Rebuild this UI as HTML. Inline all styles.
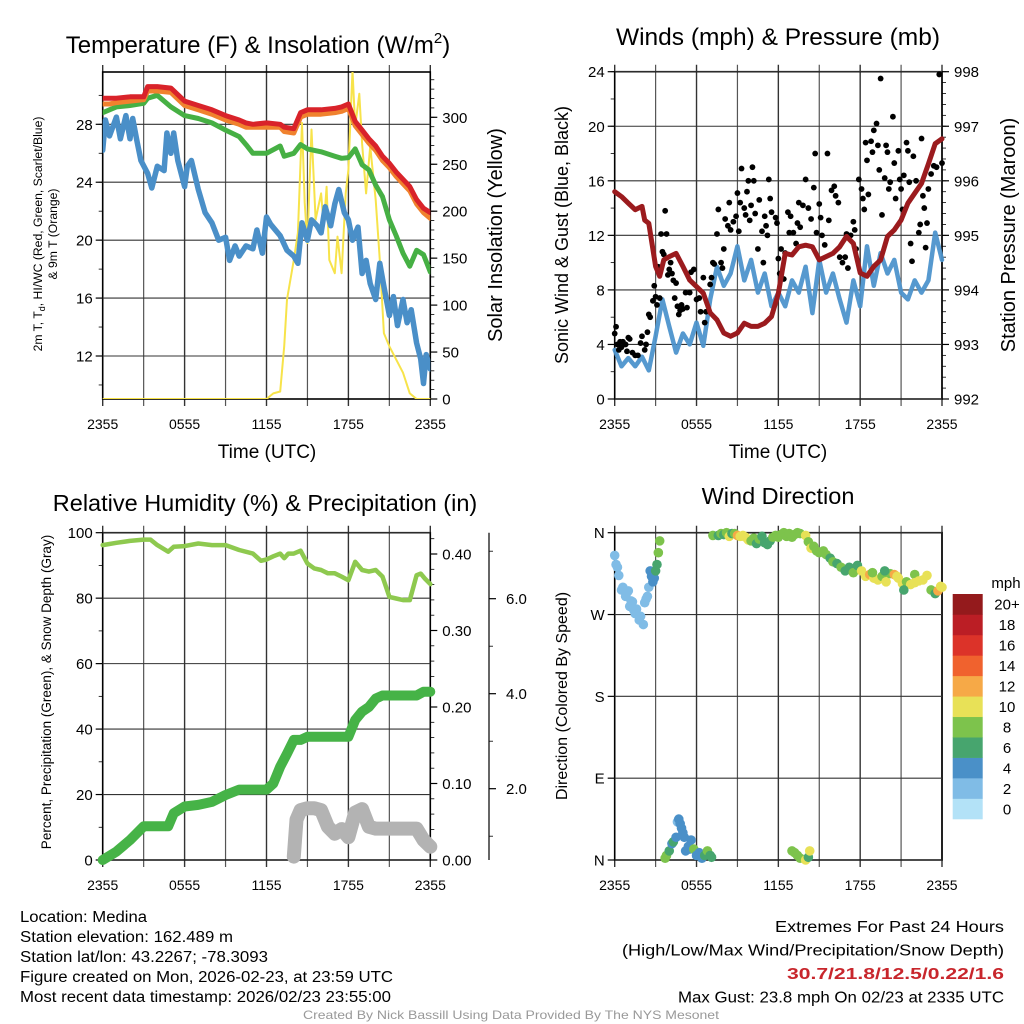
<!DOCTYPE html>
<html><head><meta charset="utf-8"><style>
html,body{margin:0;padding:0;background:#fff}
svg{display:block;font-family:"Liberation Sans",sans-serif}
</style></head><body>
<svg id="c" width="1024" height="1024" viewBox="0 0 1024 1024" xmlns="http://www.w3.org/2000/svg"></svg>
<script>
// ---------- DATA ----------
const tempTimes=[0,0.5,1,2,3,3.3,4,5,6,7,8,9,10,10.5,11,12,13,13.3,14,14.5,15,16,17,17.5,18,18.5,19,19.5,20,20.5,21,21.5,22,22.5,23,23.5,24];
const tempRed=[29.8,29.8,29.8,29.9,29.9,30.6,30.6,30.5,29.6,29.3,29.0,28.6,28.3,28.1,28.0,28.1,28.0,27.8,27.7,28.8,29.0,29.0,29.1,29.2,29.4,28.2,27.6,27.0,26.5,25.8,25.3,24.7,24.2,23.7,22.8,22.2,21.9];
const tempOrange=[29.4,29.4,29.5,29.6,29.7,30.3,30.3,30.2,29.3,29.0,28.7,28.3,28.0,27.8,27.8,27.8,27.8,27.5,27.4,28.5,28.7,28.7,28.8,28.9,29.1,27.9,27.3,26.7,26.2,25.5,25.0,24.4,23.9,23.4,22.5,21.9,21.5];
const tempGreen=[28.8,29.0,29.2,29.3,29.45,29.8,30.0,29.2,28.6,28.4,28.1,27.6,27.15,26.6,26.0,26.0,26.5,25.8,26.0,26.6,26.3,26.1,25.8,25.65,25.7,26.3,25.2,24.85,23.8,23.0,21.4,20.3,19.1,18.2,19.3,19.0,17.8];
const dewTimes=[0,0.2,0.5,1,1.3,1.7,2,2.2,2.5,2.8,3.3,3.6,4,4.5,4.7,5,5.2,5.5,6,6.2,6.5,7,7.5,8,8.5,9,9.3,9.7,10,10.5,11,11.3,11.7,12,12.3,13,13.5,14,14.3,14.6,15,15.3,15.7,16,16.3,16.7,17,17.3,17.7,18,18.3,18.7,19,19.3,19.6,20,20.3,20.6,21,21.3,21.6,22,22.3,22.6,23,23.3,23.5,23.7,24];
const dewBlue=[26.2,28.3,27.2,28.5,27.0,28.6,27.0,28.4,26.9,25.5,24.6,23.6,25.1,24.8,27.4,26.0,27.4,25.5,23.7,25.1,25.5,23.5,21.9,21.2,20.0,20.2,18.6,19.6,18.9,19.6,19.4,20.7,19.1,21.6,21.1,20.3,19.3,18.9,18.4,21.2,20.0,21.4,21.0,20.5,22.3,21.0,22.5,23.5,21.9,21.4,20.0,20.9,17.7,18.6,17.0,15.9,18.4,16.8,14.8,16.1,14.1,15.9,14.3,15.2,12.9,11.8,10.1,12.1,11.1];
const solarTimes=[0,12,12.5,13,13.3,13.5,14,14.3,14.6,14.8,15,15.3,15.6,16,16.2,16.4,16.6,17,17.2,17.5,17.8,18,18.3,18.5,18.8,19,19.3,19.6,20,20.3,20.6,21,21.5,22,22.5,23,24];
const solarVals=[0,0,6,8,56,106,148,177,294,209,166,287,191,219,184,226,148,134,173,134,219,244,350,290,325,272,219,269,212,148,70,56,42,28,6,0,0];

const windTimes=[0,0.5,1,1.5,2,2.5,3,3.5,4,4.5,5,5.5,6,6.5,7,7.5,8,8.5,9,9.5,10,10.5,11,11.5,12,12.5,13,13.5,14,14.5,15,15.5,16,16.5,17,17.5,18,18.5,19,19.5,20,20.5,21,21.5,22,22.5,23,23.5,24];
const windSpeed=[3.6,2.4,3.0,2.4,3.1,2.1,4.6,7.3,5.3,3.4,4.8,4.0,5.6,3.9,7.3,9.7,8.3,9.2,11.2,8.7,10.2,7.8,9.2,6.8,7.8,6.8,8.7,7.8,9.7,6.3,10.2,7.8,9.2,7.3,5.6,8.7,6.8,11.2,8.3,10.7,9.2,10.2,7.8,7.3,8.7,7.8,8.7,12.2,10.2];
const pressTimes=[0,0.5,1,1.5,2,2.2,2.5,3,3.3,3.6,4,4.5,5,5.5,6,6.5,7,7.5,8,8.5,9,9.5,10,10.5,11,11.5,12,12.5,13,13.5,14,14.5,15,15.5,16,16.5,17,17.5,18,18.5,19,19.5,20,20.5,21,21.5,22,22.5,23,23.5,24];
const pressVals=[995.8,995.71,995.59,995.47,995.53,995.28,995.22,994.43,994.25,994.55,994.61,994.67,994.43,994.18,994.06,993.94,993.58,993.45,993.21,993.15,993.21,993.39,993.33,993.33,993.39,993.51,993.94,994.67,994.64,994.79,994.82,994.79,994.55,994.61,994.67,994.79,994.98,994.85,994.31,994.25,994.43,994.55,994.98,995.1,995.28,995.59,995.77,995.95,996.31,996.68,996.77];
const gustTimes=[0,0.1,0.2,0.3,0.4,0.5,0.6,0.8,0.9,1.0,1.1,1.3,1.5,1.7,1.9,2.0,2.2,2.3,2.4,2.5,2.6,2.8,2.9,3.0,3.1,3.2,3.3,3.4,3.5,3.6,3.7,3.8,3.9,4.0,4.1,4.2,4.3,4.4,4.5,4.6,4.7,4.8,4.9,5.0,5.2,5.3,5.5,5.6,5.8,6.0,6.2,6.3,6.5,6.6,6.7,7.0,7.1,7.2,7.3,7.5,7.6,7.8,7.9,8.0,8.1,8.3,8.4,8.5,8.7,8.9,9.0,9.1,9.2,9.3,9.5,9.6,9.7,9.8,9.9,10.0,10.1,10.2,10.3,10.5,10.6,10.8,10.9,11.0,11.1,11.2,11.3,11.4,11.5,11.8,11.9,12.0,12.1,12.2,12.4,12.5,12.7,12.8,12.9,13.1,13.3,13.4,13.5,13.6,13.8,14.0,14.2,14.4,14.6,14.7,14.8,15.0,15.1,15.2,15.4,15.6,15.7,15.9,16.1,16.2,16.4,16.5,16.7,16.9,17.0,17.1,17.3,17.5,17.6,17.7,17.9,18.1,18.2,18.3,18.4,18.5,18.6,18.8,18.9,19.0,19.2,19.3,19.4,19.5,19.6,19.8,19.9,20.0,20.1,20.2,20.4,20.5,20.6,20.8,20.9,21.0,21.1,21.2,21.4,21.5,21.6,21.7,21.8,21.9,22.1,22.3,22.4,22.5,22.6,22.7,22.8,22.9,23.0,23.2,23.4,23.6,23.8,24.0];
const gustVals=[4.8,5.3,4.0,3.6,4.2,3.8,4.2,4.0,3.5,4.5,4.4,3.4,3.2,3.2,4.1,4.6,3.6,4.0,4.9,6.2,6.0,7.2,8.3,7.5,6.9,9.7,7.4,12.1,10.8,10.6,13.8,12.1,9.1,9.5,10.0,9.2,8.7,7.4,8.5,6.8,6.2,6.5,6.9,6.6,7.8,6.7,7.8,9.3,9.5,7.3,7.4,6.4,8.9,5.6,6.4,8.4,8.9,10.0,9.9,12.1,13.9,10.0,9.6,11.0,13.2,12.7,14.4,12.4,13.0,13.4,15.1,12.3,14.4,16.9,14.0,13.5,15.2,16.0,13.1,14.2,17.0,16.0,13.6,11.0,14.6,12.3,10.0,13.4,12.7,12.0,16.1,14.7,13.7,13.3,12.9,10.3,9.2,11.0,8.8,10.7,13.7,12.2,13.4,12.2,11.4,12.9,14.4,12.6,14.2,16.1,14.0,13.2,15.5,18.0,12.2,14.3,13.3,12.0,11.3,18.0,13.1,15.3,15.6,14.9,14.4,10.4,10.0,10.4,12.1,9.6,12.0,13.0,12.4,11.0,16.1,15.4,14.7,13.9,18.8,17.5,15.0,18.9,18.1,19.7,20.2,18.6,16.8,23.5,13.5,16.2,18.6,18.1,15.4,15.9,20.7,17.3,14.7,18.2,16.1,15.4,13.9,16.4,18.8,18.2,15.9,11.4,10.1,17.8,16.0,12.2,12.8,19.1,14.9,14.0,11.1,12.9,15.4,16.5,17.1,17.0,23.8,17.3];

const rhTimes=[0,1,2,3,3.5,4,4.8,5.2,6,7,8,9,10,11,11.6,12,12.5,13,13.3,13.6,14,14.5,15,15.5,16,16.5,17,17.5,18,18.5,19,19.5,20,20.5,21,21.5,22,22.5,23,23.3,23.6,24];
const rhVals=[96.2,96.9,97.5,97.9,97.9,96.2,94.2,95.7,95.9,96.7,96.2,96.2,94.7,93.6,91.4,91.8,92.8,93.6,92.2,93.6,93.6,94.5,90.6,89.1,88.6,87.6,87.6,86.6,85.5,91.1,88.6,88.1,88.6,86.6,80.4,79.9,79.4,79.4,87.0,87.5,86.0,84.3];
const precipTimes=[0,1,2,2.5,3,4,4.8,5.2,6,7,8,9,10,11,12,12.5,13,13.5,14,14.5,15,16,17,18,18.5,19,19.5,20,20.5,21,22,23,23.5,24];
const precipVals=[0,0.011,0.026,0.035,0.044,0.044,0.044,0.061,0.07,0.072,0.076,0.085,0.092,0.092,0.092,0.1,0.122,0.139,0.157,0.157,0.161,0.161,0.161,0.161,0.183,0.194,0.2,0.211,0.215,0.215,0.215,0.215,0.22,0.22];
const snowTimes=[14,14.2,14.5,15,15.5,16,16.5,17,17.5,18,18.5,19,19.5,20,21,22,23,23.5,24];
const snowVals=[0.57,1.35,1.55,1.59,1.59,1.55,1.2,1.05,1.15,0.98,1.5,1.57,1.2,1.16,1.16,1.16,1.16,0.92,0.78];

const dirTimes=[0,0.1,0.2,0.3,0.5,0.6,0.8,0.9,1.0,1.1,1.2,1.3,1.4,1.5,1.6,1.8,1.9,2.1,2.2,2.3,2.4,2.5,2.6,2.7,2.8,2.9,3.0,3.1,3.2,3.3,3.7,3.8,4.0,4.2,4.3,4.5,4.6,4.7,4.8,4.9,5.0,5.1,5.2,5.4,5.5,5.6,5.8,6.0,6.2,6.4,6.6,6.8,7.0,7.1,7.2,7.6,7.8,8.0,8.2,8.4,8.6,8.8,9.0,9.2,9.4,9.6,9.8,10.0,10.2,10.4,10.6,10.8,11.0,11.2,11.4,11.6,11.8,12.0,12.2,12.4,12.6,12.8,13.0,13.2,13.4,13.6,14.0,14.2,14.4,14.6,14.8,13.0,13.2,13.4,13.6,14.0,14.2,14.3,15.0,15.3,15.5,15.8,16.0,16.3,16.6,16.9,17.2,17.5,17.8,18.1,18.4,18.7,19.0,19.3,19.6,19.9,20.2,20.5,20.8,21.1,21.4,21.7,22.0,22.3,22.6,22.9,23.2,23.5,23.7,23.9,24.0,22.0,21.2,20.7,19.8,18.9];
const dirVals=[335,325,322,313,297,300,290,294,296,279,285,284,275,271,276,264,268,259,283,287,290,300,318,312,306,310,318,325,338,351,2,5,10,18,20,25,42,45,40,35,30,25,10,15,12,22,12,5,8,2,5,10,5,3,357,357,359,358,360,356,359,359,357,356,357,355,352,351,354,348,353,356,349,347,351,355,357,355,358,360,356,359,355,358,360,359,357,350,343,345,340,10,8,5,2,0,3,10,338,340,336,332,328,326,322,318,322,316,324,318,312,314,310,308,312,306,315,314,310,304,306,303,314,307,308,313,297,293,296,301,300,305,297,312,318,316];
const dirSpeeds=[2,2,2,2,2,2,2,2,2,2,2,2,2,2,2,2,2,2,2,2,2,2,4,4,4,4,6,6,8,8,8,8,6,4,6,4,2,4,4,4,4,4,4,4,4,4,8,4,4,4,6,8,6,6,8,6,8,6,8,10,6,8,12,10,10,10,10,8,8,6,8,6,6,6,6,8,8,8,8,8,8,8,8,8,8,8,10,8,10,8,8,8,8,8,8,10,6,10,8,8,8,6,8,6,8,6,6,8,6,10,10,12,10,10,8,10,8,12,10,10,8,10,8,10,10,10,8,6,12,10,10,10,6,10,6,8];
const speedLabels=["0","2","4","6","8","10","12","14","16","18","20+"];
const speedColors=["#b3e2f7","#80bce6","#4a90c8","#47a56e","#7dc34c","#e8e157","#f6a947","#f0622e","#dc3329","#bb1e25","#941a1c"];
const xTickLabels=["2355","0555","1155","1755","2355"];

// ---------- HELPERS ----------
const NS="http://www.w3.org/2000/svg";
const svg=document.getElementById('c');
function mk(tag,attrs,parent){const e=document.createElementNS(NS,tag);for(const k in attrs)e.setAttribute(k,attrs[k]);(parent||svg).appendChild(e);return e;}
function txt(s,x,y,size,anchor,parent,extra){const e=mk('text',Object.assign({x:x,y:y,'font-size':size,'text-anchor':anchor||'middle',fill:'#000'},extra||{}),parent);e.textContent=s;return e;}
function lin(a,b,c,d,col,w,parent){return mk('line',{x1:a,y1:b,x2:c,y2:d,stroke:col,'stroke-width':w},parent);}

const X0=102.7,X1=430.3,X0b=614.7,X1b=942;
function mkX(x0,x1){return h=>x0+(x1-x0)*h/24;}
function mkY(v0,v1,y0,y1){return v=>y0+(v-v0)*(y1-y0)/(v1-v0);}

function frame(name,x0,x1,y0,y1){
  const g=mk('g',{});
  
  
  for(let i=0;i<=8;i++){const x=x0+(x1-x0)*i/8;
    const l=lin(x,y0-7,x,y1+7,i%2?'#555':'#333',i%2?1.2:1.4,g);
    
    }
  for(let i=0;i<5;i++){const t=txt(xTickLabels[i],x0+(x1-x0)*i/4,y1+30,14,'middle',g);
    
    }
  const r=mk('rect',{x:x0,y:y0,width:x1-x0,height:y1-y0,fill:'none',stroke:'#000','stroke-width':1.6},g);
  
  
  return g;
}
function polyline(name,ts,vs,sx,sy,col,w,parent,op){
  const pts=ts.map((t,i)=>sx(t).toFixed(1)+','+sy(vs[i]).toFixed(1)).join(' ');
  const p=mk('polyline',{points:pts,fill:'none',stroke:col,'stroke-width':w,'stroke-linejoin':'round','stroke-linecap':'round','stroke-opacity':op||1},parent);
  
  
  return p;
}
let X0g=0;
function yAxis(g,vals,labels,sy,x,side,size,gridX1,grid){
  vals.forEach((v,i)=>{const y=sy(v);
    lin(x,y,x+(side<0?-7:7),y,'#000',1.2,g);
    if(grid) lin(X0g,y,gridX1,y,'#333',1.1,g);
    const t=txt(labels[i],x+(side<0?-10:12),y+5.5,size,side<0?'end':'start',g);
    
    });
}
function minor(g,from,to,step,sy,x,side){for(let v=from;v<=to+1e-9;v+=step){const y=sy(v);lin(x,y,x+(side<0?-4:4),y,'#000',0.8,g);}}

// ---------- PANEL 1 ----------
(function(){
  const sx=mkX(X0,X1), sy=mkY(12,28,356,124.3), sr=mkY(0,300,399,117.3);
  const g=frame('temperature-panel',X0,X1,72,399);
  X0g=X0;
  yAxis(g,[12,16,20,24,28],['12','16','20','24','28'],sy,X0,-1,15,X1,true);
  minor(g,10,30,2,sy,X0,-1);
  yAxis(g,[0,50,100,150,200,250,300],['0','50','100','150','200','250','300'],sr,X1,1,15,X1,false);
  minor(g,10,340,10,sr,X1,1);
  const cp=mk('clipPath',{id:'cp1'});mk('rect',{x:X0,y:72,width:X1-X0,height:327},cp);
  const d=mk('g',{'clip-path':'url(#cp1)'},g);
  polyline('solar-insolation-line',solarTimes,solarVals,sx,sr,'#f7e34a',2,d);
  polyline('dewpoint-line',dewTimes,dewBlue,sx,sy,'#4a8fc8',5.5,d);
  polyline('heat-index-line',tempTimes,tempGreen,sx,sy,'#46b044',5,d);
  polyline('temp-9m-line',tempTimes,tempOrange,sx,sy,'#f0822e',5,d);
  polyline('temp-2m-line',tempTimes,tempRed,sx,sy,'#d9232a',5,d);
  let t=txt('Temperature (F) & Insolation (W/m',258,53,24,'middle',svg);
  const ts=mk('tspan',{'font-size':15,dy:-10},t);ts.textContent='2';const ts2=mk('tspan',{dy:10},t);ts2.textContent=')';
  t=txt('Time (UTC)',267,458,19,'middle');
  const yl=mk('g',{transform:'translate(42,234) rotate(-90)'});
  
  const a=txt('2m T, T',0,0,12.2,'middle',yl);const sub=mk('tspan',{'font-size':9,dy:3},a);sub.textContent='d';const r=mk('tspan',{dy:-3},a);r.textContent=', HI/WC (Red, Green, Scarlet/Blue)';
  txt('& 9m T (Orange)',0,15,12.2,'middle',yl);
  t=txt('Solar Insolation (Yellow)',0,0,20,'middle',svg,{transform:'translate(502,235) rotate(-90)'});
})();

// ---------- PANEL 2 ----------
(function(){
  const sx=mkX(X0b,X1b), sy=mkY(0,24,399,71.7), sp=mkY(992,998,399,71.7);
  const g=frame('winds-panel',X0b,X1b,71.7,399);
  X0g=X0b;
  yAxis(g,[0,4,8,12,16,20,24],['0','4','8','12','16','20','24'],sy,X0b,-1,15,X1b,true);
  minor(g,0,24,2,sy,X0b,-1);
  yAxis(g,[992,993,994,995,996,997,998],['992','993','994','995','996','997','998'],sp,X1b,1,15,X1b,false);
  minor(g,992,998,0.2,sp,X1b,1);
  polyline('wind-speed-line',windTimes,windSpeed,sx,sy,'#4d93cc',4.5,g,0.95);
  const dots=mk('g',{},g);
  gustTimes.forEach((t,i)=>{const c=mk('circle',{cx:sx(t),cy:sy(gustVals[i]),r:2.9,fill:'#000'},dots);
    
    });
  polyline('pressure-line',pressTimes,pressVals,sx,sp,'#9b1b1e',5,g);
  let t=txt('Winds (mph) & Pressure (mb)',778,45,24.5,'middle');
  t=txt('Time (UTC)',778,458,19,'middle');
  t=txt('Sonic Wind & Gust (Blue, Black)',0,0,18,'middle',svg,{transform:'translate(568,235) rotate(-90)'});
  t=txt('Station Pressure (Maroon)',0,0,20,'middle',svg,{transform:'translate(1015,235) rotate(-90)'});
})();

// ---------- PANEL 3 ----------
(function(){
  const Y0=532.7,Y1=860;
  const sx=mkX(X0,X1), sy=mkY(0,100,Y1,Y0), spr=mkY(0,0.4,Y1,554), ssn=v=>883.7-47.5*v;
  const g=frame('humidity-panel',X0,X1,Y0,Y1);
  X0g=X0;
  yAxis(g,[0,20,40,60,80,100],['0','20','40','60','80','100'],sy,X0,-1,15,X1,true);
  minor(g,10,90,20,sy,X0,-1);
  yAxis(g,[0,0.1,0.2,0.3,0.4],['0.00','0.10','0.20','0.30','0.40'],spr,X1,1,15,X1,false);
  minor(g,0.02,0.42,0.02,spr,X1,1);
  lin(489,Y0,489,Y1,'#000',1.2,g);
  [2,4,6].forEach((v,i)=>{const y=ssn(v);lin(489,y,496,y,'#000',1.2,g);
    const t=txt(v.toFixed(1),506,y+5.5,15,'start',g);
    
    });
  [1,3,5,7].forEach(v=>lin(489,ssn(v),493,ssn(v),'#000',0.8,g));
  const cp=mk('clipPath',{id:'cp3'});mk('rect',{x:X0-8,y:Y0,width:X1-X0+16,height:Y1-Y0+8},cp);
  const d=mk('g',{'clip-path':'url(#cp3)'},g);
  polyline('snow-depth-line',snowTimes,snowVals,sx,ssn,'#b3b3b3',14,d);
  polyline('precipitation-line',precipTimes,precipVals,sx,spr,'#46b347',10,d);
  polyline('humidity-line',rhTimes,rhVals,sx,sy,'#8ec94f',4.5,d);
  let t=txt('Relative Humidity (%) & Precipitation (in)',265,511,23.5,'middle');
  t=txt('Percent, Precipitation (Green), & Snow Depth (Gray)',0,0,13.5,'middle',svg,{transform:'translate(51,692) rotate(-90)'});
})();

// ---------- PANEL 4 ----------
(function(){
  const Y0=532.7,Y1=860;
  const sx=mkX(X0b,X1b), sy=mkY(0,360,Y1,Y0);
  const g=frame('wind-direction-panel',X0b,X1b,Y0,Y1);
  X0g=X0b;
  yAxis(g,[0,90,180,270,360],['N','E','S','W','N'],sy,X0b,-1,15,X1b,true);
  const dots=mk('g',{},g);
  dirTimes.forEach((t,i)=>{const idx=Math.min(10,Math.floor(dirSpeeds[i]/2));
    const c=mk('circle',{cx:sx(t),cy:sy(dirVals[i]),r:4.8,fill:speedColors[idx]},dots);
    
    });
  const cb=mk('g',{});
  const top=594,bh=(819-594)/11;
  for(let i=0;i<11;i++){const y=top+bh*(10-i);
    const r=mk('rect',{x:952.7,y:y,width:30,height:bh+0.3,fill:speedColors[i]},cb);
    
    
    const t=txt(speedLabels[i],1007,y+bh/2+5.5,15,'middle',cb);
    
    }
  let t=txt('mph',1006,588,15,'middle',cb);
  t=txt('Wind Direction',778,504,23.5,'middle');
  t=txt('Direction (Colored By Speed)',0,0,16,'middle',svg,{transform:'translate(567,696) rotate(-90)'});
})();

// ---------- FOOTER ----------
(function(){
  const left=[['Location: Medina',127],['Station elevation: 162.489 m',213],['Station lat/lon: 43.2267; -78.3093',248],['Figure created on Mon, 2026-02-23, at 23:59 UTC',373],['Most recent data timestamp: 2026/02/23 23:55:00',371]];
  left.forEach((l,i)=>{const t=txt(l[0],20,922+20*i,15.5,'start',svg,{textLength:l[1],lengthAdjust:'spacingAndGlyphs'});
    
    });
  const right=[['Extremes For Past 24 Hours',229,'#000',0],['(High/Low/Max Wind/Precipitation/Snow Depth)',382,'#000',0],['30.7/21.8/12.5/0.22/1.6',217,'#c8262c',1],['Max Gust: 23.8 mph On 02/23 at 2335 UTC',326,'#000',0]];
  right.forEach((l,i)=>{const t=txt(l[0],1004,932+23.5*i,15.5,'end',svg,{textLength:l[1],lengthAdjust:'spacingAndGlyphs',fill:l[2],'font-weight':l[3]?'bold':'normal'});
    
    });
  const t=txt('Created By Nick Bassill Using Data Provided By The NYS Mesonet',511,1019,12,'middle',svg,{fill:'#999',textLength:416,lengthAdjust:'spacingAndGlyphs'});
  
  
})();
</script>
</body></html>
